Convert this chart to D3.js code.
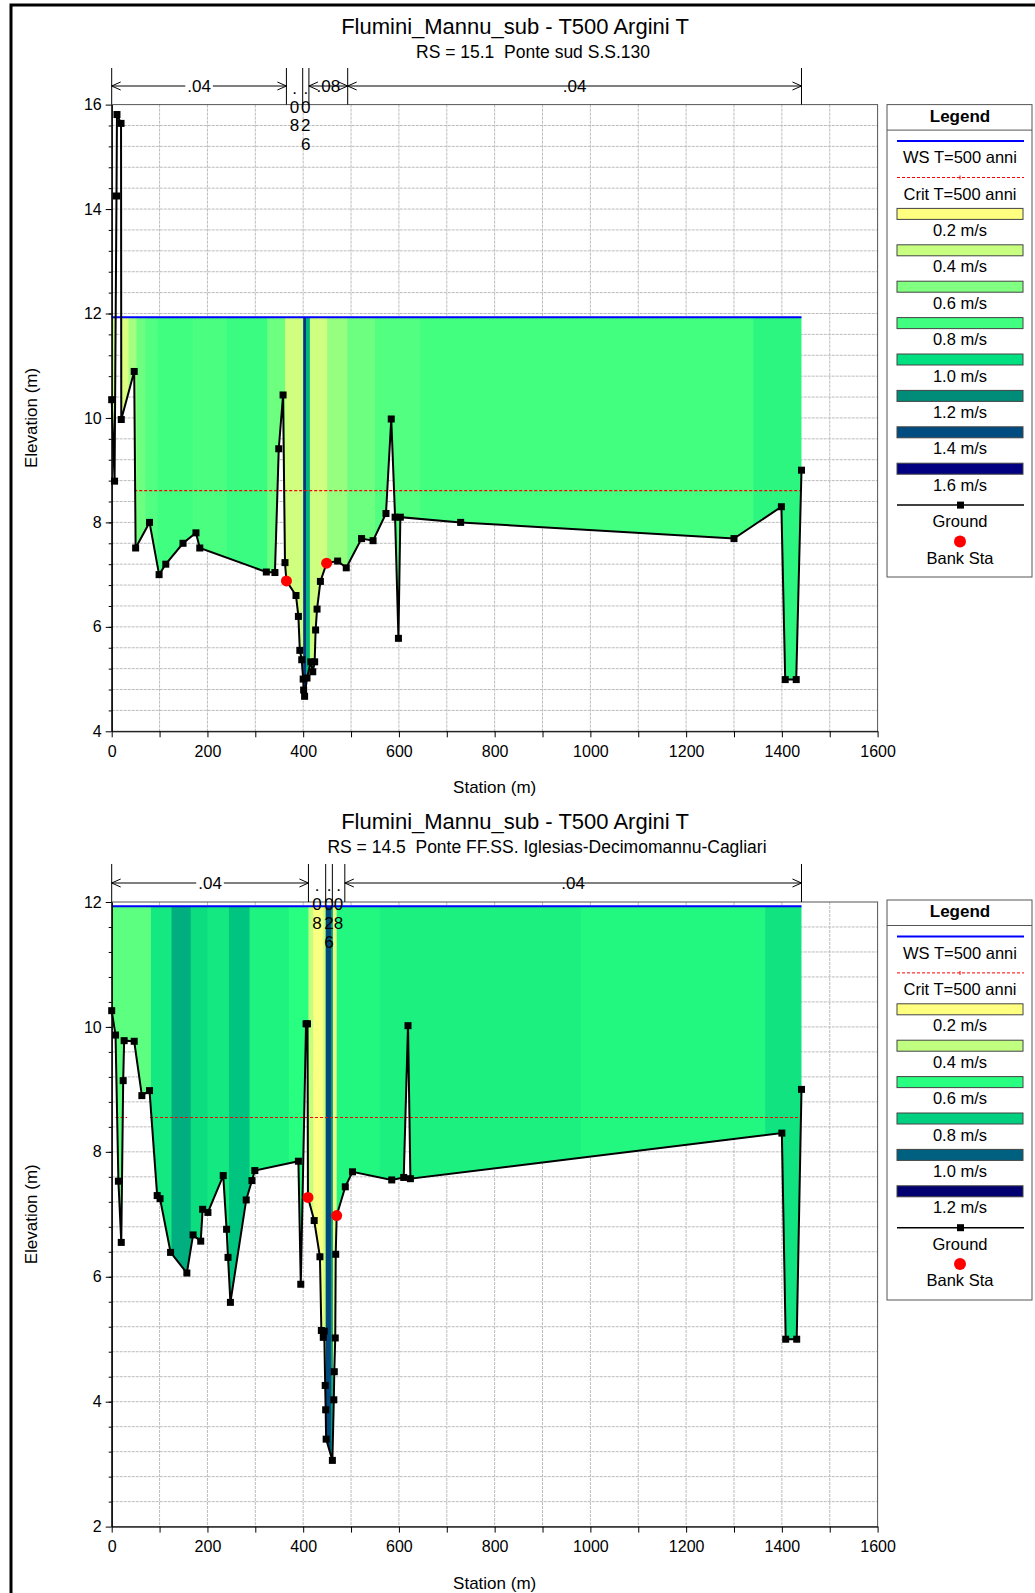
<!DOCTYPE html>
<html>
<head>
<meta charset="utf-8">
<script src="https://cdn.jsdelivr.net/npm/d3@7"></script>
<style>
  body { margin: 0; background: #fff; }
  text { font-family: "Liberation Sans", Arial, sans-serif; fill: #000; }
</style>
</head>
<body>
<script>
// ---------- data ----------
var plotTitle = "Flumini_Mannu_sub - T500 Argini T";
var topSubtitle = "RS = 15.1  Ponte sud S.S.130";
var botSubtitle = "RS = 14.5  Ponte FF.SS. Iglesias-Decimomannu-Cagliari";

// RS 15.1 ground
var topStation = [0, 6, 10, 11, 19.5, 20, 47, 50, 79, 99, 113, 149, 176, 184, 323, 341, 349, 358, 362, 365,
  385, 390, 393, 397, 400, 401, 403, 408, 416, 420, 424, 426, 429, 436, 449, 472, 490, 522, 546, 573,
  584, 592, 599, 603, 729, 1300, 1399, 1407, 1430, 1441];
var topElev = [10.35, 8.79, 14.25, 15.81, 15.64, 9.97, 10.89, 7.51, 8.0, 7.0, 7.2, 7.6, 7.8, 7.51, 7.05, 7.04, 9.41, 10.44, 7.23, 6.88,
  6.6, 6.2, 5.55, 5.37, 5.0, 4.79, 4.67, 5.02, 5.33, 5.14, 5.33, 5.94, 6.34, 6.87, 7.22, 7.26, 7.13, 7.69, 7.65, 8.17,
  9.98, 8.1, 5.78, 8.1, 8.0, 7.69, 8.3, 4.99, 4.99, 9.0];
var topBankStation = [365, 449];
var topBankElev = [6.88, 7.22];
var topWS = 11.93;
var topCrit = 8.61;
var topCritFrom = [47];
var topCritTo = [1441];
// velocity strips
var topStripStart = [0, 10, 20, 35, 52, 70, 95, 170, 240, 325, 362, 400, 406, 414, 450, 492, 550, 645, 1340];
var topStripVel = [0.4, 0.4, 0.33, 0.5, 0.66, 0.74, 0.8, 0.77, 0.82, 0.66, 0.37, 1.45, 1.1, 0.38, 0.54, 0.66, 0.74, 0.79, 0.86];
// manning's n
var topNBreaks = [0, 365, 399, 412, 493, 1441];
var topNValues = [".04", ".08", ".026", ".08", ".04"];
// legend
var topLegVel = [0.2, 0.4, 0.6, 0.8, 1.0, 1.2, 1.4, 1.6];
var topLegColor = ["#ffff80", "#c8ff80", "#80ff80", "#40ff80", "#00e080", "#008c78", "#004c80", "#000080"];

// RS 14.5 ground
var botStation = [0, 8, 14, 20, 24, 26, 47, 63, 79, 95, 101, 123, 157, 170, 186, 190, 201, 233, 240, 243,
  248, 281, 293, 299, 390, 395, 406, 409, 410, 423, 435, 438, 442, 444, 446, 447, 448, 461, 464, 465,
  467, 468, 470, 488, 503, 585, 610, 619, 624, 1400, 1408, 1431, 1441];
var botElev = [10.26, 9.87, 7.53, 6.55, 9.14, 9.78, 9.77, 8.9, 8.98, 7.3, 7.25, 6.39, 6.06, 6.67, 6.57, 7.08, 7.03, 7.62, 6.76, 6.31,
  5.59, 7.23, 7.54, 7.7, 7.85, 5.88, 10.05, 10.05, 7.27, 6.9, 6.32, 5.14, 5.03, 5.13, 4.26, 3.87, 3.4, 3.06, 4.03, 4.48,
  5.02, 6.36, 6.98, 7.44, 7.68, 7.55, 7.59, 10.02, 7.57, 8.3, 5.0, 5.0, 9.0];
var botBankStation = [410, 470];
var botBankElev = [7.27, 6.98];
var botWS = 11.93;
var botCrit = 8.55;
var botCritFrom = [8, 80];
var botCritTo = [32, 1441];
var botStripStart = [0, 82, 125, 165, 200, 245, 288, 370, 411, 421, 442, 447, 458, 462, 470, 560, 980, 1365];
var botStripVel = [0.53, 0.7, 0.86, 0.74, 0.7, 0.82, 0.65, 0.6, 0.38, 0.22, 0.38, 1.05, 0.9, 0.28, 0.63, 0.66, 0.63, 0.72];
var botNBreaks = [0, 411, 447, 461, 487, 1441];
var botNValues = [".04", ".08", ".026", ".08", ".04"];
var botLegVel = [0.2, 0.4, 0.6, 0.8, 1.0, 1.2];
var botLegColor = ["#ffff80", "#c0ff80", "#28ff80", "#00d080", "#006080", "#000070"];

var stationTicks = d3.range(0, 1601, 100);

// ---------- drawing ----------
var width = 1035, height = 1593;
var svg = d3.select("body").append("svg")
  .attr("width", width)
  .attr("height", height);

// outer frame (cut by the picture edge on the right and bottom)
svg.append("path")
  .attr("d", "M11,1700V5H1100")
  .attr("fill", "none")
  .attr("stroke", "#000")
  .attr("stroke-width", 3);

function makechart(o) {
  var x = d3.scaleLinear().domain([0, 1600]).range([111.7, 877.6]);
  var y = d3.scaleLinear().domain(o.yDomain).range([o.bottom, o.top]);
  var color = d3.scaleLinear().domain(o.legVel).range(o.legColor).clamp(true);
  var g = svg.append("g");

  // titles
  g.append("text").attr("x", 515).attr("y", o.titleY)
    .attr("text-anchor", "middle").style("font-size", "22px").text(plotTitle);
  g.append("text").attr("x", o.subX).attr("y", o.titleY + 24)
    .attr("text-anchor", "middle").style("font-size", "17.5px").style("white-space", "pre").text(o.subtitle);

  // grid
  var ys = d3.range(o.yDomain[0] + 0.4, o.yDomain[1] - 0.01, 0.4);
  g.append("g").selectAll("line").data(ys).enter().append("line")
    .attr("x1", x(0)).attr("x2", x(1600))
    .attr("y1", d => y(d)).attr("y2", d => y(d))
    .attr("stroke", "#bcbcbc").attr("stroke-dasharray", "3,1");
  g.append("g").selectAll("line").data(stationTicks.slice(1, -1)).enter().append("line")
    .attr("x1", d => x(d)).attr("x2", d => x(d))
    .attr("y1", o.top).attr("y2", o.bottom)
    .attr("stroke", "#bcbcbc").attr("stroke-dasharray", "3,1");

  // water fill, velocity strips clipped above the ground
  var pts = o.station.map((s, i) => [x(s), y(o.elev[i])]);
  var last = o.station[o.station.length - 1];
  var poly = pts.concat([[x(last), 0], [x(o.station[0]), 0]]);
  g.append("clipPath").attr("id", o.id + "clip")
    .append("path").attr("d", "M" + poly.join("L") + "Z");
  g.append("g").attr("clip-path", "url(#" + o.id + "clip)")
    .selectAll("rect").data(o.stripStart).enter().append("rect")
    .attr("x", d => x(d))
    .attr("width", (d, i) => x(i < o.stripStart.length - 1 ? o.stripStart[i + 1] : last) - x(d) + 0.6)
    .attr("y", y(o.ws))
    .attr("height", o.bottom - y(o.ws))
    .attr("fill", (d, i) => color(o.stripVel[i]));

  // frame
  g.append("rect").attr("x", x(0)).attr("y", o.top)
    .attr("width", x(1600) - x(0)).attr("height", o.bottom - o.top)
    .attr("fill", "none").attr("stroke", "#555");

  // crit line
  g.append("g").selectAll("line").data(o.critFrom).enter().append("line")
    .attr("x1", d => x(d)).attr("x2", (d, i) => x(o.critTo[i]))
    .attr("y1", y(o.crit)).attr("y2", y(o.crit))
    .attr("stroke", "#ff0000").attr("stroke-width", 1.2).attr("stroke-dasharray", "3,2");

  // water surface
  g.append("line").attr("x1", x(0)).attr("x2", x(last))
    .attr("y1", y(o.ws)).attr("y2", y(o.ws))
    .attr("stroke", "#0000ff").attr("stroke-width", 2);

  // ground
  var line = d3.line().x(d => d[0]).y(d => d[1]);
  g.append("path").attr("d", line(pts))
    .attr("fill", "none").attr("stroke", "#000").attr("stroke-width", 2);
  g.append("g").selectAll("rect").data(pts).enter().append("rect")
    .attr("x", d => d[0] - 3.5).attr("y", d => d[1] - 3.5)
    .attr("width", 7).attr("height", 7).attr("fill", "#000");

  // bank stations
  g.append("g").selectAll("circle").data(o.bankStation).enter().append("circle")
    .attr("cx", d => x(d)).attr("cy", (d, i) => y(o.bankElev[i]))
    .attr("r", 5.5).attr("fill", "#ff0000");

  // axes
  var yMajor = d3.range(o.yDomain[0], o.yDomain[1] + 0.01, 2);
  g.append("g").attr("transform", "translate(" + x(0) + ",0)")
    .call(d3.axisLeft(y).tickValues(ys).tickSize(3).tickSizeOuter(0).tickFormat(""));
  var ya = g.append("g").attr("transform", "translate(" + x(0) + ",0)")
    .call(d3.axisLeft(y).tickValues(yMajor).tickSize(6).tickPadding(4).tickSizeOuter(0).tickFormat(d3.format("d")));
  var xa = g.append("g").attr("transform", "translate(0," + o.bottom + ")")
    .call(d3.axisBottom(x).tickValues(stationTicks).tickSize(6).tickPadding(8).tickSizeOuter(0)
      .tickFormat(d => d % 200 === 0 ? d : ""));
  [ya, xa].forEach(a => {
    a.selectAll("text").style("font-size", "16px").attr("fill", "#000")
      .style("font-family", "\"Liberation Sans\", Arial, sans-serif");
    a.selectAll("line,path").attr("stroke", "#000");
  });

  g.append("text").attr("x", (x(0) + x(1600)) / 2).attr("y", o.bottom + 62)
    .attr("text-anchor", "middle").style("font-size", "17px").text("Station (m)");
  g.append("text").attr("transform", "translate(37," + (o.top + o.bottom) / 2 + ")rotate(-90)")
    .attr("text-anchor", "middle").style("font-size", "17px").text("Elevation (m)");

  // manning's n
  var ng = g.append("g");
  ng.selectAll("line").data(o.nBreaks).enter().append("line")
    .attr("x1", d => x(d)).attr("x2", d => x(d))
    .attr("y1", o.nTop).attr("y2", o.top).attr("stroke", "#000");
  o.nValues.forEach((v, i) => {
    var a = x(o.nBreaks[i]), b = x(o.nBreaks[i + 1]), mid = (a + b) / 2;
    if (b - a > 30) {
      ng.append("line").attr("x1", a).attr("x2", b).attr("y1", o.nY).attr("y2", o.nY).attr("stroke", "#000");
      ng.append("path").attr("d", "M" + (a + 9) + "," + (o.nY - 4) + "L" + a + "," + o.nY + "L" + (a + 9) + "," + (o.nY + 4))
        .attr("fill", "none").attr("stroke", "#000");
      ng.append("path").attr("d", "M" + (b - 9) + "," + (o.nY - 4) + "L" + b + "," + o.nY + "L" + (b - 9) + "," + (o.nY + 4))
        .attr("fill", "none").attr("stroke", "#000");
      var t = ng.append("text").attr("x", mid).attr("y", o.nY + 6)
        .attr("text-anchor", "middle").style("font-size", "17px").text(v);
      var bb = t.node().getBBox();
      ng.insert("rect", "text").attr("x", bb.x - 2).attr("y", o.nY - 2)
        .attr("width", bb.width + 4).attr("height", 4).attr("fill", "#fff");
    } else {
      v.split("").forEach((c, k) => {
        ng.append("text").attr("x", mid).attr("y", o.nY + 8 + k * o.nPitch)
          .attr("text-anchor", "middle").style("font-size", "17px").text(c);
      });
    }
  });

  // legend
  var lg = g.append("g");
  var lx0 = 887, lx1 = 1032, pitch = 36.4;
  lg.append("rect").attr("x", lx0).attr("y", o.legTop)
    .attr("width", lx1 - lx0).attr("height", o.legBottom - o.legTop)
    .attr("fill", "#fff").attr("stroke", "#555");
  lg.append("text").attr("x", 960).attr("y", o.legTop + 17)
    .attr("text-anchor", "middle").style("font-size", "17px").style("font-weight", "bold").text("Legend");
  lg.append("line").attr("x1", lx0).attr("x2", lx1)
    .attr("y1", o.legTop + 25.5).attr("y2", o.legTop + 25.5).attr("stroke", "#555");
  var sy = k => o.legTop + 36.5 + pitch * k;
  var label = (k, s) => lg.append("text").attr("x", 960).attr("y", sy(k) + 22)
    .attr("text-anchor", "middle").style("font-size", "16.5px").text(s);
  lg.append("line").attr("x1", 897).attr("x2", 1024).attr("y1", sy(0)).attr("y2", sy(0))
    .attr("stroke", "#0000ff").attr("stroke-width", 2);
  label(0, "WS T=500 anni");
  lg.append("line").attr("x1", 897).attr("x2", 1024).attr("y1", sy(1)).attr("y2", sy(1))
    .attr("stroke", "#ff0000").attr("stroke-dasharray", "3,2");
  lg.append("line").attr("x1", 960).attr("x2", 960).attr("y1", sy(1) - 2).attr("y2", sy(1) + 2)
    .attr("stroke", "#ff0000");
  label(1, "Crit T=500 anni");
  o.legVel.forEach((v, i) => {
    lg.append("rect").attr("x", 897).attr("y", sy(i + 2) - 5.5).attr("width", 126).attr("height", 11)
      .attr("fill", o.legColor[i]).attr("stroke", "#444");
    label(i + 2, d3.format(".1f")(v) + " m/s");
  });
  var kg = o.legVel.length + 2;
  lg.append("line").attr("x1", 897).attr("x2", 1024).attr("y1", sy(kg)).attr("y2", sy(kg))
    .attr("stroke", "#000").attr("stroke-width", 1.5);
  lg.append("rect").attr("x", 957).attr("y", sy(kg) - 3.5).attr("width", 7).attr("height", 7).attr("fill", "#000");
  label(kg, "Ground");
  lg.append("circle").attr("cx", 960).attr("cy", sy(kg + 1)).attr("r", 6).attr("fill", "#ff0000");
  label(kg + 1, "Bank Sta");
}

makechart({
  id: "top", yDomain: [4, 16], top: 104.6, bottom: 731.3,
  titleY: 34, subtitle: topSubtitle, subX: 533,
  station: topStation, elev: topElev, bankStation: topBankStation, bankElev: topBankElev,
  ws: topWS, crit: topCrit, critFrom: topCritFrom, critTo: topCritTo,
  stripStart: topStripStart, stripVel: topStripVel,
  nBreaks: topNBreaks, nValues: topNValues, nTop: 68, nY: 86, nPitch: 18.5,
  legVel: topLegVel, legColor: topLegColor, legTop: 104.6, legBottom: 577
});

makechart({
  id: "bot", yDomain: [2, 12], top: 902, bottom: 1526.6,
  titleY: 829, subtitle: botSubtitle, subX: 547,
  station: botStation, elev: botElev, bankStation: botBankStation, bankElev: botBankElev,
  ws: botWS, crit: botCrit, critFrom: botCritFrom, critTo: botCritTo,
  stripStart: botStripStart, stripVel: botStripVel,
  nBreaks: botNBreaks, nValues: botNValues, nTop: 864, nY: 883, nPitch: 19,
  legVel: botLegVel, legColor: botLegColor, legTop: 900, legBottom: 1300
});
</script>
</body>
</html>
